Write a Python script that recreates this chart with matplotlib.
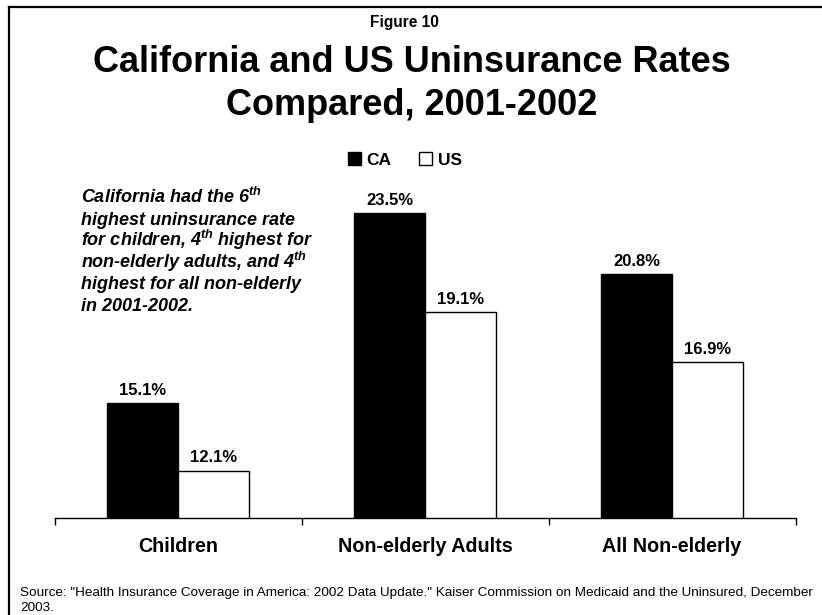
import numpy as np
import matplotlib
matplotlib.use("Agg")
import matplotlib.pyplot as plt
from matplotlib.lines import Line2D

plt.rcParams['font.family'] = ['Liberation Sans', 'DejaVu Sans']
plt.rcParams['mathtext.fontset'] = 'custom'
plt.rcParams['mathtext.rm'] = 'Liberation Sans:bold:italic'
plt.rcParams['mathtext.it'] = 'Liberation Sans:bold:italic'
plt.rcParams['mathtext.bf'] = 'Liberation Sans:bold:italic'

categories = ['Children', 'Non-elderly Adults', 'All Non-elderly']
ca_rates = [15.1, 23.5, 20.8]
us_rates = [12.1, 19.1, 16.9]
series_names = ['CA', 'US']

note_lines = [
    r'California had the 6$^{\mathrm{th}}$',
    'highest uninsurance rate',
    r'for children, 4$^{\mathrm{th}}$ highest for',
    r'non-elderly adults, and 4$^{\mathrm{th}}$',
    'highest for all non-elderly',
    'in 2001-2002.',
]
source_lines = [
    'Source: "Health Insurance Coverage in America: 2002 Data Update." Kaiser Commission on Medicaid and the Uninsured, December',
    '2003.',
]

W, H = 822, 615
fig = plt.figure(figsize=(W / 100, H / 100), dpi=100)

def fx(px):
    return px / W

def fy(py):
    return 1 - py / H

# plot area
ax = fig.add_axes([fx(54.5), fy(518), fx(741), 339 / H])
x = np.arange(len(categories))
w = 0.287
b1 = ax.bar(x - w / 2, ca_rates, w, color='black', edgecolor='black', linewidth=1, label=series_names[0])
b2 = ax.bar(x + w / 2, us_rates, w, color='white', edgecolor='black', linewidth=1, label=series_names[1])

for bars, vals in ((b1, ca_rates), (b2, us_rates)):
    for r, v in zip(bars, vals):
        ax.annotate(f'{v:.1f}%', (r.get_x() + r.get_width() / 2, v),
                    xytext=(0, 5.8), textcoords='offset points',
                    ha='center', va='baseline', fontsize=12, fontweight='bold')

ax.set_xlim(-0.5, len(categories) - 0.5)
ax.set_ylim(10, 25)
for s in ('left', 'right', 'top'):
    ax.spines[s].set_visible(False)
ax.spines['bottom'].set_linewidth(1)
ax.set_yticks([])
ax.set_xticks(x)
ax.set_xticklabels(categories, fontsize=14.2, fontweight='bold')
ax.set_xticks(np.arange(len(categories) + 1) - 0.5, minor=True)
ax.tick_params(axis='x', which='major', length=0, pad=14)
ax.tick_params(axis='x', which='minor', length=5, width=1, direction='out')

# legend
fig.legend(handles=[b1, b2], loc='center', bbox_to_anchor=(fx(405), fy(160)),
           ncol=2, frameon=False, prop={'weight': 'bold', 'size': 12.5},
           handlelength=0.75, handleheight=0.75, handletextpad=0.3,
           columnspacing=1.6, borderpad=0)

# titles
fig.text(fx(404), fy(27), 'Figure 10', ha='center', va='baseline', fontsize=11.2, fontweight='bold')
fig.text(fx(412), fy(72), 'California and US Uninsurance Rates', ha='center', va='baseline',
         fontsize=26, fontweight='bold')
fig.text(fx(412), fy(115), 'Compared, 2001-2002', ha='center', va='baseline',
         fontsize=26, fontweight='bold')

# note
for i, line in enumerate(note_lines):
    fig.text(fx(81), fy(203 + i * 21.6), line, ha='left', va='baseline',
             fontsize=13, fontweight='bold', fontstyle='italic')

# source
for i, line in enumerate(source_lines):
    fig.text(fx(20), fy(596 + i * 15), line, ha='left', va='baseline', fontsize=9.7)

# frame (open at right and bottom)
fig.add_artist(Line2D([fx(9), 1], [fy(7), fy(7)], color='black', linewidth=1.6))
fig.add_artist(Line2D([fx(9), fx(9)], [fy(7), 0], color='black', linewidth=1.6))

fig.savefig('out.png', dpi=100)
